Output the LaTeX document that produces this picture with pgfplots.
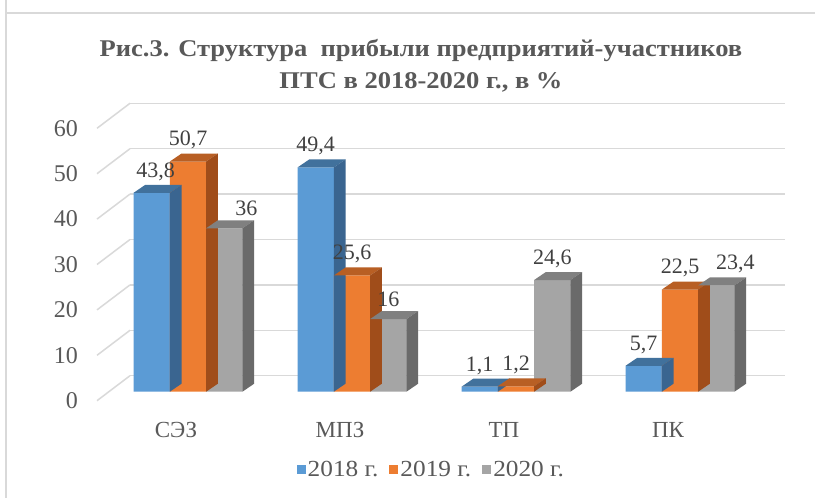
\documentclass[border=0pt]{standalone}
\usepackage{pgfplots}
\usepackage{pgfplotstable}
\pgfplotsset{compat=1.18}
\usepackage{fontspec}
\setmainfont{Liberation Serif}
\newfontfamily\titlefont{Liberation Serif}[FakeStretch=1.105]
\newfontfamily\legfont{Liberation Serif}[FakeStretch=1.1]
\definecolor{cBlue}{HTML}{5B9BD5}
\definecolor{cBlueT}{HTML}{41719C}
\definecolor{cBlueS}{HTML}{3A6590}
\definecolor{cOr}{HTML}{ED7D31}
\definecolor{cOrT}{HTML}{B85F24}
\definecolor{cOrS}{HTML}{A04D1A}
\definecolor{cGr}{HTML}{A5A5A5}
\definecolor{cGrT}{HTML}{808080}
\definecolor{cGrS}{HTML}{6A6A6A}
\definecolor{txt}{HTML}{595959}
\definecolor{lbl}{HTML}{404040}
\definecolor{gridc}{HTML}{D9D9D9}

\newcommand\defcube[3]{%
\pgfdeclareplotmark{#1}{%
 \pgfmathsetmacro\hh{\rawy*4.54}%
 \pgfpathmoveto{\pgfpoint{-18.15pt}{0pt}}%
 \pgfpathlineto{\pgfpoint{18.15pt}{0pt}}%
 \pgfpathlineto{\pgfpoint{29.85pt}{8pt}}%
 \pgfpathlineto{\pgfpoint{-6.45pt}{8pt}}%
 \pgfpathclose
 \pgfsetfillcolor{#2}\pgfusepath{fill}%
 \pgfpathmoveto{\pgfpoint{18.15pt}{0pt}}%
 \pgfpathlineto{\pgfpoint{29.85pt}{8pt}}%
 \pgfpathlineto{\pgfpoint{29.85pt}{8pt-\hh pt}}%
 \pgfpathlineto{\pgfpoint{18.15pt}{-\hh pt}}%
 \pgfpathclose
 \pgfsetfillcolor{#3}\pgfusepath{fill}%
}}
\defcube{cubeB}{cBlueT}{cBlueS}
\defcube{cubeO}{cOrT}{cOrS}
\defcube{cubeG}{cGrT}{cGrS}

% x = category index, y = value, dx = label shift (pt)
\pgfplotstableread{
x y dx
0 43.8 4
1 49.4 0
2 1.1 0
3 5.7 0
}\tA
\pgfplotstableread{
x y dx
0 50.7 0
1 25.6 0
2 1.2 0
3 22.5 0
}\tB
\pgfplotstableread{
x y dx
0 36 22
1 16 0
2 24.6 0
3 23.4 19
}\tC

\begin{document}
\begin{tikzpicture}
\useasboundingbox (0,0) rectangle (815pt,498pt);
\fill[white] (0,0) rectangle (815pt,498pt);
\draw[gridc, line width=1.5pt] (6pt,0pt) -- (6pt,498pt);
\draw[gridc, line width=1.5pt] (6pt,485pt) -- (815pt,485pt);

% back wall
\begin{axis}[at={(130pt,122.3pt)}, anchor=south west, scale only axis,
  width=655pt, height=272.4pt, xmin=0, xmax=1, ymin=0, ymax=60,
  ytick={0,10,...,60}, yticklabels={}, xtick=\empty,
  ymajorgrids, grid style={gridc, line width=1.5pt},
  axis line style={draw=none}, tick style={draw=none}]
\addplot[draw=none] coordinates {(0,0)};
\end{axis}
\foreach \v in {0,10,...,60}
  \draw[gridc, line width=1.5pt] (97pt,{97.3pt+4.54pt*\v}) -- (130pt,{122.3pt+4.54pt*\v});

% front: y tick labels
\begin{axis}[at={(97pt,97.3pt)}, anchor=south west, scale only axis,
  width=1pt, height=272.4pt, xmin=0, xmax=1, ymin=0, ymax=60,
  ytick={0,10,...,60}, xtick=\empty,
  axis line style={draw=none}, tick style={draw=none},
  yticklabel style={anchor=east, inner sep=0pt, xshift=-19pt, text=txt, font=\fontsize{24}{24}\selectfont},
  /pgf/number format/assume math mode=true]
\addplot[draw=none] coordinates {(0,0)};
\end{axis}

% bars
\begin{axis}[at={(106pt,106.3pt)}, anchor=south west, scale only axis,
  width=656pt, height=272.4pt, xmin=-0.5, xmax=3.5, ymin=0, ymax=60,
  clip=false,
  xtick={0,1,2,3}, xticklabels={СЭЗ,МПЗ,ТП,ПК}, ytick=\empty,
  xticklabel style={anchor=center, inner sep=0pt, xshift=-12pt, yshift=-38pt, text=txt, font=\fontsize{23}{23}\selectfont},
  axis line style={draw=none}, tick style={draw=none},
  every node near coord/.append style={font=\fontsize{22}{22}\selectfont, text=lbl, anchor=south, yshift=12pt, inner sep=0pt},
  /pgf/number format/use comma,
  /pgf/number format/assume math mode=true,
  legend style={at={(0.496,-0.286)}, anchor=center, draw=none, fill=none,
    legend columns=3, font=\legfont\fontsize{23}{23}\selectfont, text=txt,
    /tikz/every even column/.append style={column sep=9pt}},
  ]
\addplot[ybar, bar width=36.3pt, bar shift=0pt, fill=cBlue, draw=none, mark=cubeB,
  visualization depends on={rawy \as \rawy}, x filter/.expression={x-0.22134},
  legend image code/.code={\fill[cBlue] (0pt,-4.5pt) rectangle (9pt,4.5pt);}]
  table[x=x,y=y] {\tA};
\addplot[ybar, bar width=36.3pt, bar shift=0pt, fill=cOr, draw=none, mark=cubeO,
  visualization depends on={rawy \as \rawy},
  legend image code/.code={\fill[cOr] (0pt,-4.5pt) rectangle (9pt,4.5pt);}]
  table[x=x,y=y] {\tB};
\addplot[ybar, bar width=36.3pt, bar shift=0pt, fill=cGr, draw=none, mark=cubeG,
  visualization depends on={rawy \as \rawy}, x filter/.expression={x+0.22134},
  legend image code/.code={\fill[cGr] (0pt,-4.5pt) rectangle (9pt,4.5pt);}]
  table[x=x,y=y] {\tC};
\legend{2018 г.,2019 г.,2020 г.}
% value labels on top
\addplot[draw=none, mark=none, forget plot, nodes near coords,
  x filter/.expression={x-0.22134},
  visualization depends on={\thisrow{dx} \as \dx},
  every node near coord/.append style={xshift=\dx pt}]
  table[x=x,y=y] {\tA};
\addplot[draw=none, mark=none, forget plot, nodes near coords,
  visualization depends on={\thisrow{dx} \as \dx},
  every node near coord/.append style={xshift=\dx pt}]
  table[x=x,y=y] {\tB};
\addplot[draw=none, mark=none, forget plot, nodes near coords,
  x filter/.expression={x+0.22134},
  visualization depends on={\thisrow{dx} \as \dx},
  every node near coord/.append style={xshift=\dx pt}]
  table[x=x,y=y] {\tC};
\end{axis}

\node[font=\titlefont\bfseries\fontsize{24}{32}\selectfont, text=txt, align=center] at (421pt,432pt)
  {Рис.3. Структура\ \ прибыли предприятий-участников\\ПТС в 2018-2020 г., в \%};
\end{tikzpicture}
\end{document}
